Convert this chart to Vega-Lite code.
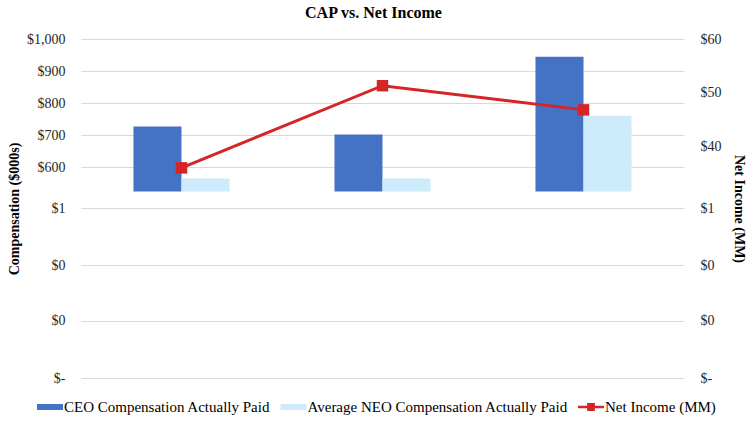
{
  "$schema": "https://vega.github.io/schema/vega-lite/v6.json",
  "width": 603,
  "height": 339,
  "autosize": {"type": "none"},
  "padding": {"left": 81, "top": 39, "right": 64, "bottom": 47},
  "background": "white",
  "title": {
    "text": "CAP vs. Net Income",
    "font": "Liberation Serif, serif",
    "fontSize": 16,
    "fontWeight": "bold",
    "color": "#000000",
    "anchor": "middle",
    "frame": "group",
    "dx": -9,
    "dy": 22,
    "offset": 17,
    "baseline": "bottom"
  },
  "config": {
    "view": {"stroke": null},
    "font": "Liberation Serif",
    "legend": {"labelFont": "Liberation Serif", "labelFontSize": 15},
    "axis": {"labelFont": "Liberation Serif", "titleFont": "Liberation Serif"}
  },
  "datasets": {
    "comp": [
      {"cat": "Year 1", "series": "CEO Compensation Actually Paid", "value": 727},
      {"cat": "Year 1", "series": "Average NEO Compensation Actually Paid", "value": 565},
      {"cat": "Year 2", "series": "CEO Compensation Actually Paid", "value": 702},
      {"cat": "Year 2", "series": "Average NEO Compensation Actually Paid", "value": 565},
      {"cat": "Year 3", "series": "CEO Compensation Actually Paid", "value": 945},
      {"cat": "Year 3", "series": "Average NEO Compensation Actually Paid", "value": 761}
    ],
    "ni": [
      {"cat": "Year 1", "ni": 36.0},
      {"cat": "Year 2", "ni": 51.3},
      {"cat": "Year 3", "ni": 46.8}
    ]
  },
  "layer": [
    {
      "data": {"name": "comp"},
      "mark": {"type": "bar"},
      "encoding": {
        "x": {
          "field": "cat",
          "type": "nominal",
          "scale": {"paddingInner": 0.522, "paddingOuter": 0.261},
          "axis": null
        },
        "xOffset": {
          "field": "series",
          "type": "nominal",
          "scale": {
            "domain": ["CEO Compensation Actually Paid", "Average NEO Compensation Actually Paid"],
            "paddingInner": 0,
            "paddingOuter": 0
          }
        },
        "y": {
          "field": "value",
          "type": "quantitative",
          "scale": {
            "domain": [0, 0.333, 0.667, 1, 525, 1000],
            "range": [339, 281.7, 226, 169, 152.4, 0],
            "nice": false,
            "zero": false
          },
          "axis": {
            "title": "Compensation ($000s)",
            "values": [0, 0.333, 0.667, 1, 600, 700, 800, 900, 1000],
            "labelExpr": "datum.value == 0 ? '$-' : datum.value < 1 ? '$0' : '$' + format(datum.value, ',')",
            "grid": true,
            "gridColor": "#D9D9D9",
            "gridWidth": 1,
            "domain": false,
            "ticks": false,
            "tickSize": 0,
            "labelPadding": 16,
            "labelFont": "Liberation Serif",
            "labelFontSize": 14,
            "labelColor": "#262626",
            "labelOverlap": false,
            "titleFont": "Liberation Serif",
            "titleFontSize": 14,
            "titleFontWeight": "bold",
            "titleColor": "#000000",
            "titlePadding": 5,
            "encode": {
              "labels": {"update": {"dx": {"signal": "datum.value <= 1 ? -21 : 0"}}}
            }
          }
        },
        "y2": {"datum": 525},
        "color": {
          "field": "series",
          "type": "nominal",
          "scale": {
            "domain": ["CEO Compensation Actually Paid", "Average NEO Compensation Actually Paid", "Net Income (MM)"],
            "range": ["#4472C4", "#CDEBFB", "#D42626"]
          },
          "legend": {
            "title": null,
            "orient": "none",
            "legendX": -44,
            "legendY": 355,
            "direction": "horizontal",
            "symbolSize": 676,
            "labelFont": "Liberation Serif",
            "labelFontSize": 15,
            "labelColor": "#000000",
            "labelOffset": 1,
            "columnPadding": 9.5,
            "labelLimit": 500,
            "padding": 0,
            "symbolStrokeWidth": 0,
            "encode": {
              "symbols": {
                "update": {
                  "shape": {"signal": "datum.value === 'Net Income (MM)' ? 'M-1,-0.1H1V0.1H-1Z M-0.3,-0.3H0.3V0.3H-0.3Z' : 'M-1,-0.23H1V0.23H-1Z'"},
                  "fill": {"signal": "scale('color', datum.value)"},
                  "opacity": {"value": 1},
                  "strokeWidth": {"value": 0}
                }
              }
            }
          }
        }
      }
    },
    {
      "data": {"name": "ni"},
      "encoding": {
        "x": {"field": "cat", "type": "nominal", "axis": null},
        "y": {
          "field": "ni",
          "type": "quantitative",
          "scale": {
            "domain": [0, 0.333, 0.667, 1, 30, 60],
            "range": [339, 281.7, 226, 169, 161.1, 0],
            "nice": false,
            "zero": false
          },
          "axis": {
            "orient": "right",
            "title": "Net Income (MM)",
            "values": [0, 0.333, 0.667, 1, 40, 50, 60],
            "labelExpr": "datum.value == 0 ? '$-' : datum.value < 1 ? '$0' : '$' + format(datum.value, ',')",
            "grid": false,
            "domain": false,
            "ticks": false,
            "tickSize": 0,
            "labelPadding": 16,
            "labelFont": "Liberation Serif",
            "labelFontSize": 14,
            "labelColor": "#262626",
            "labelOverlap": false,
            "titleFont": "Liberation Serif",
            "titleFontSize": 14,
            "titleFontWeight": "bold",
            "titleColor": "#000000",
            "titlePadding": 10
          }
        }
      },
      "layer": [
        {"mark": {"type": "line", "color": "#D42626", "strokeWidth": 3}},
        {"mark": {"type": "point", "shape": "square", "filled": true, "size": 132, "color": "#D42626", "opacity": 1}}
      ]
    }
  ],
  "resolve": {"scale": {"y": "independent"}}
}
